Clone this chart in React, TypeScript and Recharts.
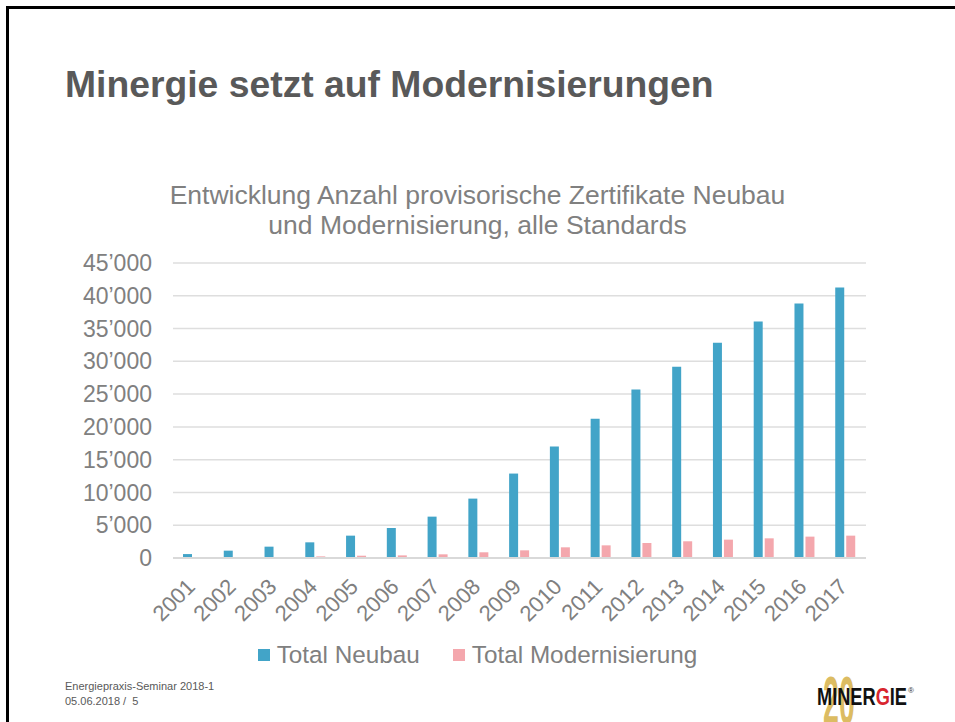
import { BarChart, Bar, XAxis, YAxis, CartesianGrid, Legend } from "recharts";

const YEARS = [
  "2001", "2002", "2003", "2004", "2005", "2006", "2007", "2008", "2009",
  "2010", "2011", "2012", "2013", "2014", "2015", "2016", "2017",
];
const NEUBAU = [
  600, 1120, 1730, 2390, 3410, 4580, 6310, 9060, 12880, 17000, 21230, 25700,
  29170, 32830, 36090, 38840, 41280,
];
const MODERNISIERUNG = [
  0, 0, 80, 250, 350, 400, 560, 870, 1170, 1630, 1930, 2290, 2550, 2800, 3000,
  3260, 3410,
];
const Y_TICKS = [0, 5000, 10000, 15000, 20000, 25000, 30000, 35000, 40000, 45000];
const SERIES = ["Total Neubau", "Total Modernisierung"];

const BLUE = "#42a4c8";
const PINK = "#f4a7ad";
const GREY = "#808080";
const FONT = "'Liberation Sans', Arial, sans-serif";
const NARROW = "'Liberation Sans Narrow', 'Liberation Sans', Arial, sans-serif";

const data = YEARS.map((year, i) => ({
  year,
  neubau: NEUBAU[i],
  modernisierung: MODERNISIERUNG[i],
}));

const fmt = (v: number) => (v === 0 ? "0" : `${v / 1000}\u2019000`);

const XTick = (props: any) => {
  const { x, y, payload } = props;
  const bx = x + 3;
  const by = y + 30;
  return (
    <text
      x={bx}
      y={by}
      transform={`rotate(-45 ${bx} ${by})`}
      textAnchor="end"
      fill={GREY}
      fontSize={22}
      fontFamily={FONT}
    >
      {payload.value}
    </text>
  );
};

const LegendBox = (props: any) => {
  const items = [...(props.payload || [])].sort(
    (a: any, b: any) => SERIES.indexOf(a.value) - SERIES.indexOf(b.value)
  );
  return (
    <div
      style={{
        display: "flex",
        justifyContent: "center",
        gap: 33,
        fontFamily: FONT,
        fontSize: 24.3,
        color: GREY,
        lineHeight: "28px",
      }}
    >
      {items.map((it: any) => (
        <div key={it.value} style={{ display: "flex", alignItems: "center" }}>
          <span
            style={{
              display: "inline-block",
              width: 12,
              height: 12,
              background: it.color,
              marginRight: 7,
            }}
          />
          {it.value}
        </div>
      ))}
    </div>
  );
};

export default function App() {
  return (
    <div
      style={{
        position: "fixed",
        left: 0,
        top: 0,
        width: 955,
        height: 722,
        overflow: "hidden",
        background: "#fff",
        fontFamily: FONT,
      }}
    >
      {/* slide frame */}
      <div
        style={{
          position: "absolute",
          left: 6,
          top: 6,
          width: 1000,
          height: 800,
          borderTop: "3px solid #000",
          borderLeft: "3px solid #000",
        }}
      />
      <div
        style={{
          position: "absolute",
          left: 65,
          top: 63,
          fontSize: 37.3,
          fontWeight: "bold",
          color: "#595959",
          whiteSpace: "nowrap",
        }}
      >
        Minergie setzt auf Modernisierungen
      </div>
      <div
        style={{
          position: "absolute",
          left: 0,
          top: 180,
          width: 955,
          textAlign: "center",
          fontSize: 26.5,
          lineHeight: "30px",
          color: GREY,
        }}
      >
        Entwicklung Anzahl provisorische Zertifikate Neubau
        <br />
        und Modernisierung, alle Standards
      </div>

      <div style={{ position: "absolute", left: 0, top: 0 }}>
        <BarChart
          width={955}
          height={722}
          data={data}
          margin={{ top: 263, right: 89, bottom: 64, left: 73 }}
          barSize={9}
          barGap={2}
        >
          <CartesianGrid vertical={false} stroke="#dedede" strokeWidth={1.5} />
          <XAxis
            dataKey="year"
            interval={0}
            height={100}
            tickLine={false}
            tickSize={0}
            tickMargin={0}
            axisLine={{ stroke: "#d9d9d9", strokeWidth: 2 }}
            tick={<XTick />}
          />
          <YAxis
            width={100}
            domain={[0, 45000]}
            ticks={Y_TICKS}
            tickFormatter={fmt}
            axisLine={false}
            tickLine={false}
            tickSize={0}
            tickMargin={21}
            tick={{ fill: GREY, fontSize: 23, fontFamily: FONT }}
          />
          <Legend
            layout="horizontal"
            verticalAlign="middle"
            align="center"
            wrapperStyle={{ top: 641, left: 0, width: 955 }}
            content={<LegendBox />}
          />
          <Bar
            dataKey="neubau"
            name="Total Neubau"
            fill={BLUE}
            isAnimationActive={false}
          />
          <Bar
            dataKey="modernisierung"
            name="Total Modernisierung"
            fill={PINK}
            isAnimationActive={false}
          />
        </BarChart>
      </div>

      <div
        style={{
          position: "absolute",
          left: 65,
          top: 679,
          fontFamily: NARROW,
          fontSize: 11,
          lineHeight: "15px",
          color: "#595959",
          whiteSpace: "pre",
        }}
      >
        {"Energiepraxis-Seminar 2018-1\n05.06.2018 /  5"}
      </div>

      {/* logo */}
      <svg
        style={{ position: "absolute", left: 810, top: 664 }}
        width={110}
        height={58}
      >
        <g transform="translate(13 60) scale(0.42 1)">
          <text
            x={0}
            y={0}
            fontSize={68}
            fontWeight="bold"
            fontFamily={FONT}
            fill="#dcbc62"
          >
            20
          </text>
        </g>
        <text
          x={7}
          y={41}
          fontSize={23}
          fontWeight="bold"
          fontFamily={NARROW}
          fill="#111"
          textLength={90}
          lengthAdjust="spacingAndGlyphs"
        >
          MINER<tspan fill="#d8262e">G</tspan>IE
        </text>
        <text x={98} y={29} fontSize={8} fontFamily={FONT} fill="#333">
          ®
        </text>
      </svg>
    </div>
  );
}
